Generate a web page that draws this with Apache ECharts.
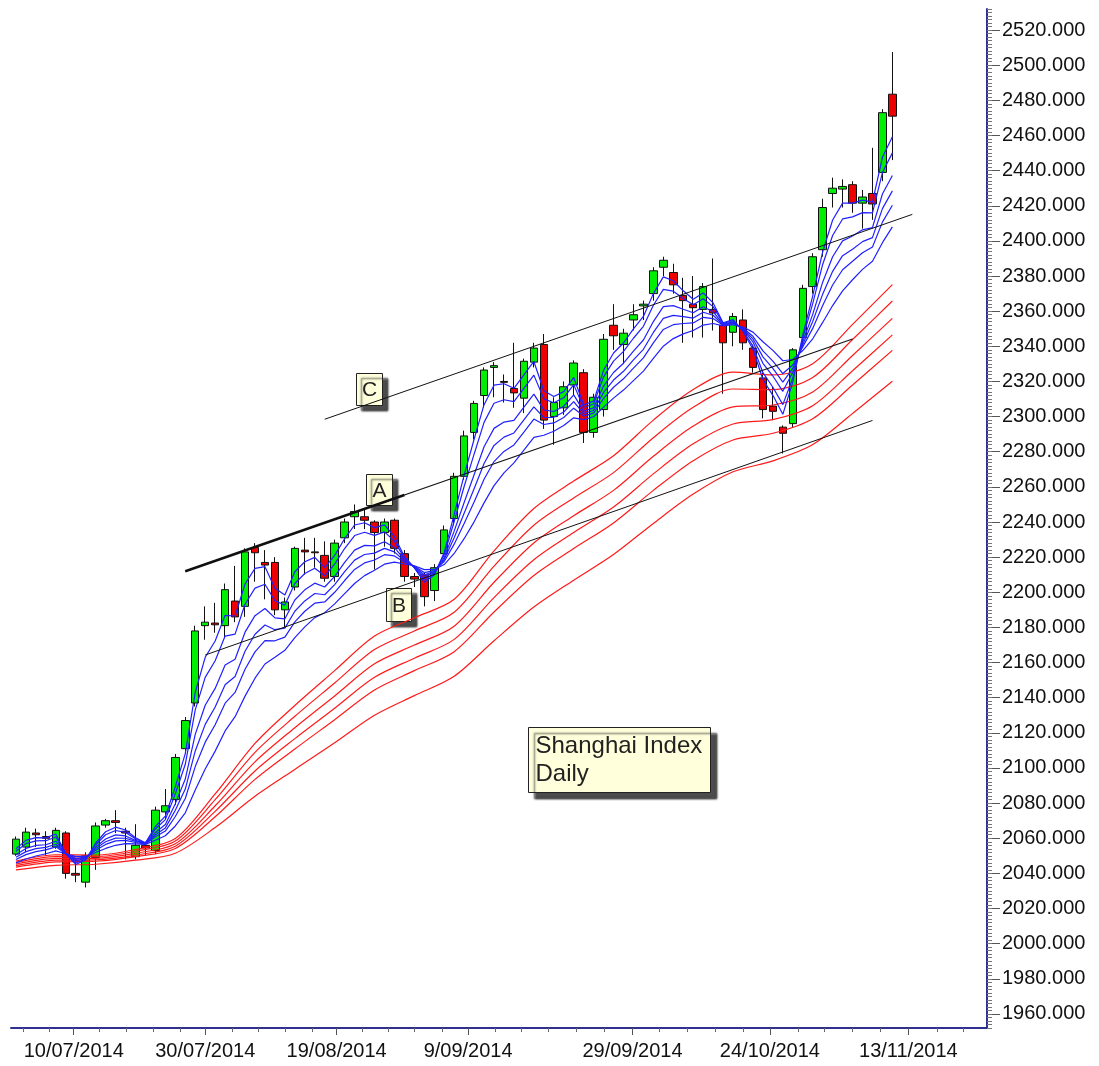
<!DOCTYPE html>
<html>
<head>
<meta charset="utf-8">
<title>Shanghai Index Daily</title>
<script src="https://cdn.jsdelivr.net/npm/echarts@6/dist/echarts.min.js"></script>
<style>
  html, body { margin: 0; padding: 0; background: #fff; }
  #chart { width: 1099px; height: 1066px; }
</style>
</head>
<body>
<div id="chart"></div>
<script>
// trading days (Jul 2 - Nov 11 2014) plus empty slots up to the right edge
const dates = [
  '2014-07-02','2014-07-03','2014-07-04','2014-07-07','2014-07-08','2014-07-09','2014-07-10','2014-07-11','2014-07-14','2014-07-15',
  '2014-07-16','2014-07-17','2014-07-18','2014-07-21','2014-07-22','2014-07-23','2014-07-24','2014-07-25','2014-07-28','2014-07-29',
  '2014-07-30','2014-07-31','2014-08-01','2014-08-04','2014-08-05','2014-08-06','2014-08-07','2014-08-08','2014-08-11','2014-08-12',
  '2014-08-13','2014-08-14','2014-08-15','2014-08-18','2014-08-19','2014-08-20','2014-08-21','2014-08-22','2014-08-25','2014-08-26',
  '2014-08-27','2014-08-28','2014-08-29','2014-09-01','2014-09-02','2014-09-03','2014-09-04','2014-09-05','2014-09-09','2014-09-10',
  '2014-09-11','2014-09-12','2014-09-15','2014-09-16','2014-09-17','2014-09-18','2014-09-19','2014-09-22','2014-09-23','2014-09-24',
  '2014-09-25','2014-09-26','2014-09-29','2014-09-30','2014-10-08','2014-10-09','2014-10-10','2014-10-13','2014-10-14','2014-10-15',
  '2014-10-16','2014-10-17','2014-10-20','2014-10-21','2014-10-22','2014-10-23','2014-10-24','2014-10-27','2014-10-28','2014-10-29',
  '2014-10-30','2014-10-31','2014-11-03','2014-11-04','2014-11-05','2014-11-06','2014-11-07','2014-11-10','2014-11-11',
  '2014-11-12','2014-11-13','2014-11-14','2014-11-17','2014-11-18','2014-11-19','2014-11-20','2014-11-21','2014-11-24'
];

const opens = [
  2051,2055,2063,2061,2055,2063,2040,2035,2049,2067.5,
  2070,2064,2049.5,2056,2053,2075,2082,2111,2137,2181,
  2182.5,2181,2195,2192,2225.5,2217,2217,2190,2203,2224,
  2223,2221,2209,2231,2243,2243,2240,2234,2241,2222,
  2209,2210,2201,2222,2242,2266,2291,2312,2328,2320,
  2316,2310.5,2331,2341,2300,2305,2318,2325,2291,2304,
  2352,2341,2355,2363,2370,2385,2382,2369,2364,2361,
  2361,2352,2348,2355,2339,2322,2306,2294,2296,2345,
  2374,2395,2427,2429.5,2432,2421.5,2427,2439,2483.5
];
const closes = [
  2059.5,2063.5,2062,2060,2064.5,2040,2039,2050,2067,2070,
  2069,2063,2056,2054.5,2076,2078.5,2106,2127,2178,2183,
  2181.5,2201.5,2186,2223,2222.5,2215.5,2190,2194.5,2225,2223,
  2222.5,2208,2228,2240,2246,2241,2234,2240,2225,2209,
  2207.5,2197.5,2214,2235.5,2266,2289,2307.5,2326.5,2329,2319.5,
  2313.5,2331.5,2339,2298,2308,2317,2330.5,2291,2311,2344,
  2346,2347.5,2358,2364,2383,2389,2375,2366,2362,2374,
  2359,2342,2357,2342,2328,2304,2303,2290.5,2338,2373,
  2391,2419,2430,2431,2421.5,2425,2421,2473,2471
];
const lows = [
  2050,2052,2055,2050,2054,2037,2035,2032,2042,2066,
  2063,2048,2048,2050,2051,2071,2079,2108,2135,2173,
  2177,2174,2183,2186,2206,2196,2187,2180,2201,2210,
  2214,2206,2206,2228,2236,2236,2213,2226,2222,2206,
  2203,2192,2195,2220,2238,2264,2287,2305,2311,2308,
  2305,2302,2328,2293,2284,2301,2312,2285,2288,2300,
  2338,2330,2349,2355,2366,2380,2370,2342,2345,2345,
  2349,2313,2340,2338,2325,2299,2298,2279,2294,2340,
  2370,2391,2419,2419,2416,2407,2412,2434,2446
];
const highs = [
  2061,2066,2065.5,2064,2066,2064,2048,2052,2069,2071,
  2076,2066,2068,2058,2078,2088,2108,2129,2181,2192,
  2194,2205,2215,2225,2228,2224,2220,2197,2226,2231,
  2231,2229,2230,2242,2250,2247,2241,2242,2242,2224,
  2211,2211,2216,2238,2268,2292,2309,2328,2331,2324,
  2342,2333,2342,2347,2311,2320,2332,2327,2313,2347,
  2364,2350,2364,2366,2385,2391,2387,2379,2380,2376,
  2390,2353,2359,2361,2341,2325,2317,2295,2339,2375,
  2393,2424,2436,2435,2434,2429,2453,2475,2507.5
];

// short-term averages (blue), one value per bar
const ema3 = [
  2054,2058.8,2060.4,2060.2,2062.4,2051.2,2045.1,2047.6,2057.3,2063.7,
  2066.3,2064.7,2060.3,2057.4,2066.7,2072.6,2089.3,2108.2,2143.1,2163,
  2172.3,2186.9,2186.5,2204.7,2213.6,2214.6,2202.3,2198.4,2211.7,2217.4,
  2219.9,2214,2221,2230.5,2238.3,2239.6,2236.8,2238.4,2231.7,2220.4,
  2213.9,2205.7,2209.9,2222.7,2244.3,2266.7,2287.1,2306.8,2317.9,2318.7,
  2316.1,2323.8,2331.4,2314.7,2311.4,2314.2,2322.3,2306.7,2308.8,2326.4,
  2336.2,2341.9,2349.9,2357,2370,2379.5,2377.3,2371.6,2366.8,2370.4,
  2364.7,2353.4,2355.2,2348.6,2338.3,2321.1,2312.1,2301.3,2319.7,2346.3,
  2368.7,2393.8,2411.9,2421.5,2421.5,2423.2,2422.1,2447.6,2459.3
];
const ema5 = [
  2052.6,2056.9,2058.5,2058.6,2060.7,2051.2,2045.9,2048,2056.3,2062,
  2064.4,2063.3,2059.7,2057.2,2065.3,2070.6,2085.3,2102.1,2133.1,2151.6,
  2161,2175.1,2176.2,2193.2,2202.4,2204.6,2195.2,2192.7,2205,2210.7,
  2213.7,2209.4,2216,2224.9,2232.3,2234.2,2232.4,2234.4,2229.1,2219.6,
  2214.1,2207,2210.5,2221.5,2240.3,2260.2,2278.6,2296.7,2307.6,2309.6,
  2308.5,2316.1,2323.6,2310.1,2307.9,2310.7,2318.2,2305.2,2307.2,2322.6,
  2331.6,2337.1,2344.6,2351.4,2363.4,2372.4,2371.4,2367.2,2363.6,2367.1,
  2362.6,2353.1,2354.7,2349,2340.1,2325,2316.7,2306.8,2322,2344.7,
  2364.3,2386.6,2403.1,2412.5,2413.7,2416.1,2416,2438.9,2450.1
];
const ema8 = [
  2050.6,2054.2,2055.9,2056.3,2058.3,2051.2,2047.1,2048.5,2055,2059.6,
  2061.9,2061.3,2058.8,2057,2063.3,2067.8,2079.7,2093.7,2119.1,2135.7,
  2145.3,2158.6,2161.9,2177.3,2186.7,2190.8,2185.4,2184.9,2195.6,2201.4,
  2205.2,2203,2209.1,2217,2224,2226.7,2226.4,2228.8,2225.5,2218.6,
  2214.4,2208.8,2211.2,2219.7,2234.8,2251.1,2266.9,2282.8,2293.3,2296.9,
  2297.9,2305.4,2312.8,2303.8,2302.9,2305.9,2312.4,2303.1,2305,2317.4,
  2325.1,2330.4,2337.3,2343.6,2354.1,2362.6,2363.2,2361.1,2359.1,2362.5,
  2359.7,2352.6,2353.9,2349.6,2342.5,2330.3,2323.1,2314.4,2325.2,2342.6,
  2358.2,2376.5,2391,2400,2402.8,2406.3,2407.6,2426.7,2437.2
];
const ema10 = [
  2049.2,2052.4,2054.1,2054.8,2056.6,2051.2,2047.9,2048.9,2054.1,2058,
  2060.1,2060,2058.2,2056.9,2062,2065.9,2075.9,2088,2109.7,2124.8,
  2134.7,2147.4,2152.1,2166.4,2176.1,2181.4,2178.7,2179.6,2189.2,2195.1,
  2199.3,2198.6,2204.4,2211.7,2218.3,2221.5,2222.3,2225,2223,2217.8,
  2214.6,2210,2211.8,2218.6,2231,2245,2258.9,2273.3,2283.6,2288.3,
  2290.7,2298.1,2305.5,2299.5,2299.6,2302.6,2308.5,2301.7,2303.5,2313.8,
  2320.8,2325.8,2332.3,2338.3,2347.9,2355.9,2357.6,2356.9,2356.1,2359.4,
  2357.7,2352.3,2353.5,2350,2344.2,2334,2327.5,2319.6,2327.4,2341.1,
  2354.1,2369.7,2382.7,2391.6,2395.3,2399.6,2401.9,2418.4,2428.5
];
const ema12 = [
  2047.9,2050.7,2052.4,2053.4,2055.1,2051.2,2048.6,2049.2,2053.2,2056.5,
  2058.5,2058.8,2057.6,2056.7,2060.8,2064.1,2072.4,2082.6,2100.8,2114.7,
  2124.6,2136.9,2143,2156.2,2166.1,2172.5,2172.4,2174.5,2183.2,2189.2,
  2193.8,2194.5,2200,2206.7,2213,2216.7,2218.4,2221.4,2220.7,2217.1,
  2214.8,2211.2,2212.3,2217.5,2227.4,2239.2,2251.4,2264.3,2274.4,2280.2,
  2283.9,2291.2,2298.6,2295.5,2296.4,2299.5,2304.8,2300.3,2302,2310.4,
  2316.7,2321.5,2327.6,2333.4,2342,2349.6,2352.3,2353,2353.3,2356.5,
  2355.8,2352,2353,2350.4,2345.7,2337.4,2331.6,2324.5,2329.4,2339.7,
  2350.2,2363.2,2374.9,2383.6,2388.4,2393.3,2396.5,2410.7,2420.3
];
const ema15 = [
  2046,2048.2,2049.9,2051.2,2052.8,2051.2,2049.7,2049.7,2051.9,2054.2,
  2056,2056.9,2056.8,2056.5,2058.9,2061.4,2067,2074.5,2087.4,2099.4,
  2109.6,2121.1,2129.2,2140.9,2151.1,2159.2,2163,2167,2174.2,2180.3,
  2185.6,2188.4,2193.4,2199.2,2205,2209.5,2212.6,2216,2217.2,2216.1,
  2215.1,2212.9,2213,2215.8,2222.1,2230.5,2240.1,2250.9,2260.7,2268,
  2273.7,2280.9,2288.2,2289.4,2291.7,2294.9,2299.3,2298.3,2299.9,2305.4,
  2310.5,2315.1,2320.5,2325.9,2333.1,2340.1,2344.4,2347.1,2349,2352.1,
  2353,2351.6,2352.3,2351,2348.1,2342.6,2337.7,2331.8,2332.5,2337.6,
  2344.3,2353.6,2363.2,2371.6,2377.9,2383.8,2388.4,2399,2408
];

// long-term averages (red), read every 4th bar
const redIdx = [0,4,8,12,16,20,24,28,32,36,40,44,48,52,56,60,64,68,72,76,80,84,88];
const ema30 = [2047,2050.6,2050.4,2053.6,2059.8,2085.2,2114,2135.6,2155.4,2175.1,2185.5,2196,2223.6,2247.7,2263.3,2277.7,2298,2315.4,2325.3,2323.7,2330.1,2352.5,2375.1];
const ema35 = [2046.2,2049.6,2049.5,2052.6,2058.4,2082,2108.9,2129.4,2148.4,2167.4,2178,2188.6,2214.9,2238.2,2253.7,2268.1,2288,2305.3,2315.7,2315.4,2322.3,2343.9,2365.8];
const ema40 = [2045.3,2048.5,2048.6,2051.5,2056.9,2078.5,2103.5,2122.9,2141,2159.3,2170,2180.7,2205.7,2228.1,2243.6,2258,2277.4,2294.6,2305.5,2306.6,2314,2334.8,2355.9];
const ema45 = [2044.4,2047.5,2047.7,2050.4,2055.5,2075.3,2098.3,2116.7,2134,2151.6,2162.5,2173.2,2197,2218.5,2234,2248.5,2267.4,2284.5,2295.8,2298.3,2306.2,2326.1,2346.5];
const ema50 = [2043.6,2046.5,2046.9,2049.5,2054.2,2072.2,2093.5,2110.8,2127.5,2144.4,2155.4,2166.2,2188.8,2209.6,2224.9,2239.5,2258,2274.9,2286.7,2290.5,2298.8,2318,2337.7];
const ema60 = [2042,2044.6,2045.2,2047.5,2051.5,2066.1,2083.9,2099.2,2114.3,2130,2141.2,2152.2,2172.4,2191.6,2206.9,2221.5,2239.2,2255.9,2268.6,2274.8,2284.1,2301.8,2320.1];

// trend lines: [bar index, price] end points
const lineA = [[17, 2212.0], [84, 2344.2]];
const lineAbold = [[17, 2212.0], [39, 2255.4]];
const lineB = [[19, 2164.3], [86, 2297.8]];
const lineC = [[31, 2298.5], [90, 2415.1]];

// axis ticks and labels
const priceTicks = [1960,1980,2000,2020,2040,2060,2080,2100,2120,2140,2160,2180,2200,2220,2240,
  2260,2280,2300,2320,2340,2360,2380,2400,2420,2440,2460,2480,2500,2520];
const tickLabels = ['10/07/2014','30/07/2014','19/08/2014','9/09/2014','29/09/2014','24/10/2014','13/11/2014'];
const labelPos = [5.8, 19, 32.2, 45.4, 61.9, 75.7, 89.6];
const minorPos = [0.7,3.3,8.4,11.1,13.8,16.5,21.7,24.3,27,29.7,34.8,37.4,40,42.8,48.1,50.7,53.4,
  56.3,59.1,64.6,67.4,70.2,73,78.5,81.2,84,86.8,92.5,95.1];

const FONT = '"Liberation Sans", Arial, sans-serif';
const AXIS_BLUE = '#30308f';

const chart = echarts.init(document.getElementById('chart'));

const candles = opens.map((o, i) => [o, closes[i], lows[i], highs[i]]);
const pairs = (idx, vals) => idx.map((x, k) => [x, vals[k]]);

function maLine(data, color, smooth) {
  return {
    type: 'line', data: data, showSymbol: false, symbol: 'none', silent: true,
    smooth: smooth || false, lineStyle: { color: color, width: 1.2 }, z: 3
  };
}
function trend(data, width) {
  return {
    type: 'line', data: data, showSymbol: false, symbol: 'none', silent: true,
    lineStyle: { color: '#111', width: width }, z: 4
  };
}
function labelBox(x, y, w, h, text) {
  return {
    type: 'group', left: x, top: y, z: 100,
    children: [
      { type: 'rect', shape: { x: 0, y: 0, width: w, height: h },
        style: { fill: '#ffffdc', stroke: '#222', lineWidth: 1,
          shadowBlur: 2, shadowOffsetX: 5, shadowOffsetY: 5, shadowColor: 'rgba(0,0,0,0.7)' } },
      { type: 'text', style: { x: w / 2, y: h / 2 + 1, text: text, align: 'center', verticalAlign: 'middle',
          font: '21px ' + FONT, fill: '#222' } }
    ]
  };
}

const blues = [ema3, ema5, ema8, ema10, ema12, ema15];
const reds = [ema30, ema35, ema40, ema45, ema50, ema60];

const option = {
  animation: false,
  backgroundColor: '#fff',
  grid: { left: 11, right: 112, top: 9, bottom: 38, containLabel: false, outerBoundsMode: 'none' },
  xAxis: [
    { type: 'category', data: dates, boundaryGap: true, show: false },
    { type: 'value', min: -0.5, max: 97.5, position: 'bottom',
      axisLine: { show: true, onZero: false, lineStyle: { color: AXIS_BLUE, width: 2 } },
      axisTick: { show: true, customValues: labelPos, length: 7, lineStyle: { color: '#555' } },
      axisLabel: { customValues: labelPos, margin: 13, color: '#111', fontSize: 20, fontFamily: FONT,
        formatter: function (v) {
          let best = 0;
          labelPos.forEach((p, k) => { if (Math.abs(p - v) < Math.abs(labelPos[best] - v)) best = k; });
          return tickLabels[best];
        } },
      splitLine: { show: false } },
    { type: 'value', min: -0.5, max: 97.5, position: 'bottom',
      axisLine: { show: false, onZero: false },
      axisTick: { show: true, customValues: minorPos, length: 4, lineStyle: { color: '#666' } },
      axisLabel: { show: false },
      splitLine: { show: false } }
  ],
  yAxis: [
    { type: 'value', position: 'right', min: 1952, max: 2532,
      axisLine: { show: true, onZero: false, lineStyle: { color: AXIS_BLUE, width: 2 } },
      axisTick: { show: true, customValues: priceTicks, length: 13, lineStyle: { color: '#555' } },
      axisLabel: { customValues: priceTicks, margin: 15, color: '#111', fontSize: 20, fontFamily: FONT,
        formatter: v => v.toFixed(3) },
      splitLine: { show: false } },
    { type: 'value', position: 'right', min: 1952, max: 2532, interval: 2,
      axisLine: { show: false, onZero: false },
      axisTick: { show: true, length: 5, lineStyle: { color: '#777' } },
      axisLabel: { show: false },
      splitLine: { show: false } }
  ],
  series: [
    { type: 'candlestick', data: candles, barWidth: 8, silent: true, z: 2,
      itemStyle: { color: '#00ee00', color0: '#ee0000', borderColor: '#111', borderColor0: '#111', borderWidth: 1 } },
    ...reds.map(r => maLine(pairs(redIdx, r), '#ff1a1a', 0.3)),
    ...blues.map(b => maLine(b, '#2020ff')),
    trend(lineAbold, 2.5),
    trend(lineA, 1.2),
    trend(lineB, 1),
    trend(lineC, 1)
  ],
  graphic: [
    labelBox(366, 474, 26, 31, 'A'),
    labelBox(386, 588, 25, 33, 'B'),
    labelBox(356, 373, 26, 32, 'C'),
    { type: 'group', left: 528, top: 727, z: 100,
      children: [
        { type: 'rect', shape: { x: 0, y: 0, width: 182, height: 65 },
          style: { fill: '#ffffdc', stroke: '#222', lineWidth: 1,
            shadowBlur: 2, shadowOffsetX: 6, shadowOffsetY: 6, shadowColor: 'rgba(0,0,0,0.7)' } },
        { type: 'text', style: { x: 7, y: 5, text: 'Shanghai Index\nDaily', font: '24px ' + FONT,
            lineHeight: 28, fill: '#222' } }
      ] }
  ]
};

chart.setOption(option);
</script>
</body>
</html>
